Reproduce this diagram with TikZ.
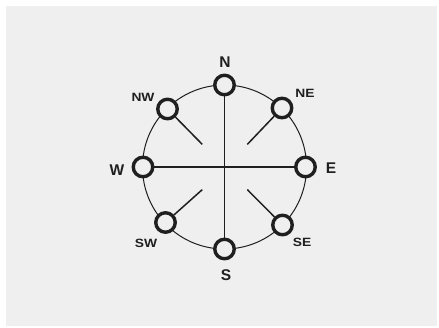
\documentclass[tikz,border=0pt]{standalone}
\usepackage{fontspec}
\setmainfont{Liberation Sans}
\newfontfamily\widelab[FakeStretch=1.15]{Liberation Sans}
\begin{document}
\begin{tikzpicture}[x=1pt,y=-1pt,
  ink/.style={draw=black!88},
  pin/.style={circle,draw=black!88,line width=3.4pt,minimum size=19.5pt,inner sep=0pt,fill=paper},
  big/.style={font=\bfseries\fontsize{15.5}{16}\selectfont,text=black!88,inner sep=0pt},
  small/.style={font=\widelab\bfseries\fontsize{12}{12}\selectfont,text=black!88,inner sep=0pt},
  spoke/.style={draw=black!88,line width=1.5pt}]
\definecolor{paper}{HTML}{EFEFEF}
\useasboundingbox (0,0) rectangle (439,327);
\fill[white] (0,0) rectangle (439,327);
\fill[paper] (6,6) rectangle (437,326);
\coordinate (c) at (224.5,167);
\draw[ink,line width=1pt] (c) circle[radius=82];
% inner ends of diagonal spokes
\coordinate (nei) at (247.3,144.4);
\coordinate (nwi) at (202.3,144.4);
\coordinate (sei) at (247.3,189.6);
\coordinate (swi) at (202.3,189.6);
% pins
\node[pin] (N) at (224.5,85) {};
\node[pin] (S) at (224.5,249) {};
\node[pin] (W) at (143,167) {};
\node[pin] (E) at (305.5,167) {};
\node[pin] (NE) at (282,108) {};
\node[pin] (NW) at (167.5,109) {};
\node[pin] (SE) at (282.5,225) {};
\node[pin] (SW) at (165.5,222.5) {};
% spokes
\draw[spoke] (N) -- (S);
\draw[spoke] (W) -- (E);
\draw[spoke] (NE) -- (nei);
\draw[spoke] (NW) -- (nwi);
\draw[spoke] (SE) -- (sei);
\draw[spoke] (SW) -- (swi);
% labels
\node[big] (lN) at (225,62) {N};
\node[big] (lS) at (226,275.5) {S};
\node[big] (lW) at (117,170) {W};
\node[big] (lE) at (331,168) {E};
\node[small] (lNE) at (305,93) {NE};
\node[small] (lNW) at (143,97) {NW};
\node[small] (lSE) at (302,242) {SE};
\node[small] (lSW) at (146,243) {SW};
\end{tikzpicture}
\end{document}
